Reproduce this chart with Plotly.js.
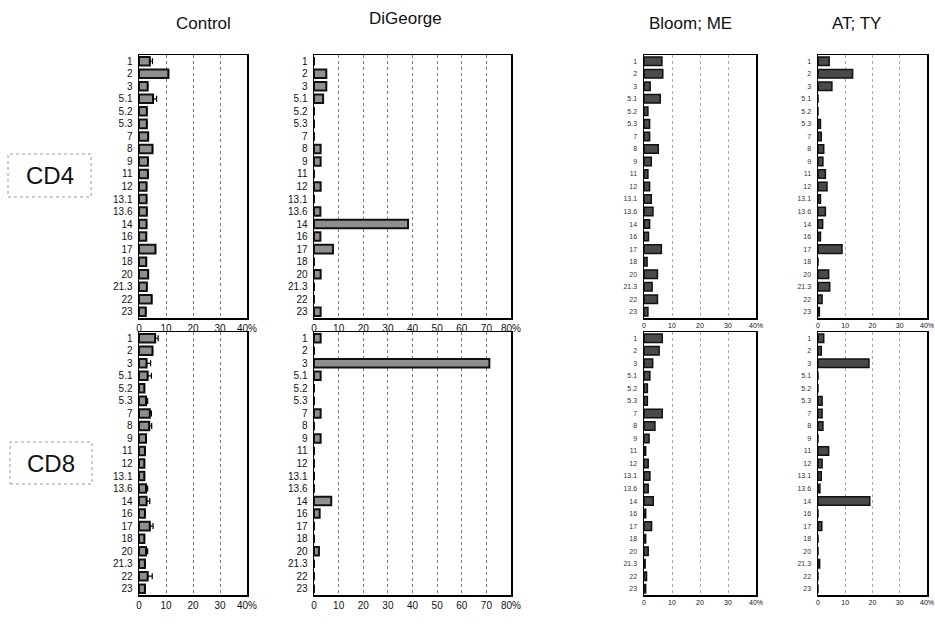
<!DOCTYPE html>
<html>
<head>
<meta charset="utf-8">
<script src="https://cdn.plot.ly/plotly-3.0.1.min.js"></script>
<style>html,body{margin:0;padding:0;background:#fff;}#chart{width:935px;height:634px;}</style>
</head>
<body>
<div id="chart"></div>
<script>
// ---- data ----
const categories = ["1","2","3","5.1","5.2","5.3","7","8","9","11","12","13.1","13.6","14","16","17","18","20","21.3","22","23"];

const controlCD4     = [4.0,10.9,3.2,5.2,2.9,2.9,3.4,5.0,3.3,3.3,2.8,2.8,2.9,2.8,2.7,6.1,2.7,3.4,2.9,4.7,2.5];
const controlCD4Err  = [1.0,0,0,1.3,0,0,0,0,0,0,0,0,0,0,0,0,0,0,0,0,0];
const digeorgeCD4    = [0,5.0,5.0,3.7,0,0,0,2.7,2.7,0,2.7,0,2.6,38.2,2.6,7.7,0,2.7,0,0,2.7];
const bloomCD4       = [6.4,6.7,2.2,5.8,1.4,2.0,2.0,5.1,2.6,1.4,2.0,2.6,3.2,2.0,1.6,6.2,1.1,4.8,2.9,4.8,1.4];
const atCD4          = [4.1,12.7,5.1,0,0,0.9,1.2,2.1,1.8,2.7,3.3,0.9,2.7,1.7,0.9,8.8,0,3.9,4.3,1.5,0.5];

const controlCD8     = [6.0,5.0,2.8,3.2,2.0,2.6,4.0,3.8,2.6,2.2,2.0,2.0,2.6,2.8,2.2,4.0,2.0,2.6,2.2,3.2,2.2];
const controlCD8Err  = [1.1,0,1.5,1.4,0,0.6,0.6,0.9,0,0,0,0,0.6,1.2,0,1.2,0,0.6,0,1.7,0];
const digeorgeCD8    = [2.7,0,71.2,2.7,0,0,2.7,0,2.7,0,0,0,0,7.0,2.3,0,0,2.0,0,0,0];
const bloomCD8       = [6.5,5.4,3.1,2.1,1.2,1.2,6.5,3.9,1.8,0.6,1.5,2.1,1.5,3.3,0.6,2.7,0.6,1.5,0.4,0.9,0.6];
const atCD8          = [2.1,1.2,18.7,0,0,1.5,1.5,1.8,0,3.9,1.5,1.2,0.7,19.0,0,1.4,0,0,0.6,0,0];

const columnTitles = ["Control","DiGeorge","Bloom; ME","AT; TY"];
const rowLabels = ["CD4","CD8"];
const ticks40 = [0,10,20,30,40];
const ticks40Text = ["0","10","20","30","40%"];
const ticks80 = [0,10,20,30,40,50,60,70,80];
const ticks80Text = ["0","10","20","30","40","50","60","70","80%"];

// ---- layout geometry (pixels -> paper) ----
const W = 935, H = 634;
const colPx = [[139,247],[314,511],[644,756],[818,927]];
const rowPx = [[55,318],[332,595]];
const FONT = "Liberation Sans, Arial, Helvetica, sans-serif";

const panels = [
  {vals: controlCD4, err: controlCD4Err, col:0, row:0},
  {vals: digeorgeCD4, col:1, row:0},
  {vals: bloomCD4, col:2, row:0},
  {vals: atCD4, col:3, row:0},
  {vals: controlCD8, err: controlCD8Err, col:0, row:1},
  {vals: digeorgeCD8, col:1, row:1},
  {vals: bloomCD8, col:2, row:1},
  {vals: atCD8, col:3, row:1},
];

const traces = [];
const layout = {
  width: W, height: H, autosize: false,
  margin: {l:0, r:0, t:0, b:0},
  paper_bgcolor: "#fff", plot_bgcolor: "#fff",
  showlegend: false,
  bargap: 0.32,
  font: {family: FONT, color: "#000"},
  annotations: [], shapes: []
};

panels.forEach((p, i) => {
  const n = i + 1;
  const xa = n === 1 ? "x" : "x" + n;
  const ya = n === 1 ? "y" : "y" + n;
  const small = p.col >= 2;
  const wide = p.col === 1;
  const t = {
    type: "bar", orientation: "h",
    x: p.vals, y: categories,
    xaxis: xa, yaxis: ya,
    marker: {color: small ? "#4a4a4a" : "#8f8f8f", line: {color: "#111", width: small ? 1.5 : 2}},
    hoverinfo: "x+y"
  };
  if (p.err) {
    t.error_x = {type: "data", array: p.err, symmetric: false, arrayminus: p.err.map(()=>0),
                 color: "#000", thickness: 1.2, width: 3};
  }
  traces.push(t);
  const [x0, x1] = colPx[p.col];
  const [yt, yb] = rowPx[p.row];
  layout["xaxis" + (n === 1 ? "" : n)] = {
    domain: [x0 / W, x1 / W],
    anchor: ya,
    range: wide ? [0, 80] : [0, 40],
    tickmode: "array",
    tickvals: wide ? ticks80 : ticks40,
    ticktext: wide ? ticks80Text : ticks40Text,
    showgrid: true, griddash: "dot", gridcolor: small ? "#aaa" : "#777", gridwidth: 1,
    zeroline: false,
    showline: true, mirror: true, linecolor: "#000", linewidth: 1.5,
    ticks: "", ticklen: 0,
    tickfont: {family: FONT, size: small ? 7 : 10, color: "#111"},
    fixedrange: true
  };
  layout["yaxis" + (n === 1 ? "" : n)] = {
    domain: [1 - yb / H, 1 - yt / H],
    anchor: xa,
    type: "category",
    categoryorder: "array", categoryarray: categories,
    range: [20.5, -0.5],
    showgrid: false, zeroline: false,
    showline: true, mirror: true, linecolor: "#000", linewidth: 1.5,
    ticks: "", ticklen: 0,
    ticklabelstandoff: small ? 4 : 3,
    tickfont: {family: FONT, size: small ? 7 : 10, color: small ? "#333" : "#111"},
    fixedrange: true
  };
});

// column titles
const titleX = [203, 405, 690, 856];
const titleY = [24, 18, 24, 24];
columnTitles.forEach((txt, i) => {
  layout.annotations.push({
    text: txt, xref: "paper", yref: "paper",
    x: titleX[i] / W, y: 1 - titleY[i] / H,
    xanchor: "center", yanchor: "middle", showarrow: false,
    font: {family: FONT, size: 17, color: "#111"}
  });
});

// row labels with dotted boxes
const rowBox = [[8,154,91,197],[10,442,92,484]];
rowLabels.forEach((txt, i) => {
  const [bx0, by0, bx1, by1] = rowBox[i];
  layout.shapes.push({
    type: "rect", xref: "paper", yref: "paper",
    x0: bx0 / W, x1: bx1 / W, y0: 1 - by1 / H, y1: 1 - by0 / H,
    line: {color: "#999", width: 1, dash: "dot"}, fillcolor: "rgba(0,0,0,0)"
  });
  layout.annotations.push({
    text: txt, xref: "paper", yref: "paper",
    x: ((bx0 + bx1) / 2) / W, y: 1 - ((by0 + by1) / 2) / H,
    xanchor: "center", yanchor: "middle", showarrow: false,
    font: {family: FONT, size: 24, color: "#111"}
  });
});

Plotly.newPlot("chart", traces, layout, {displayModeBar: false, staticPlot: true});
</script>
</body>
</html>
